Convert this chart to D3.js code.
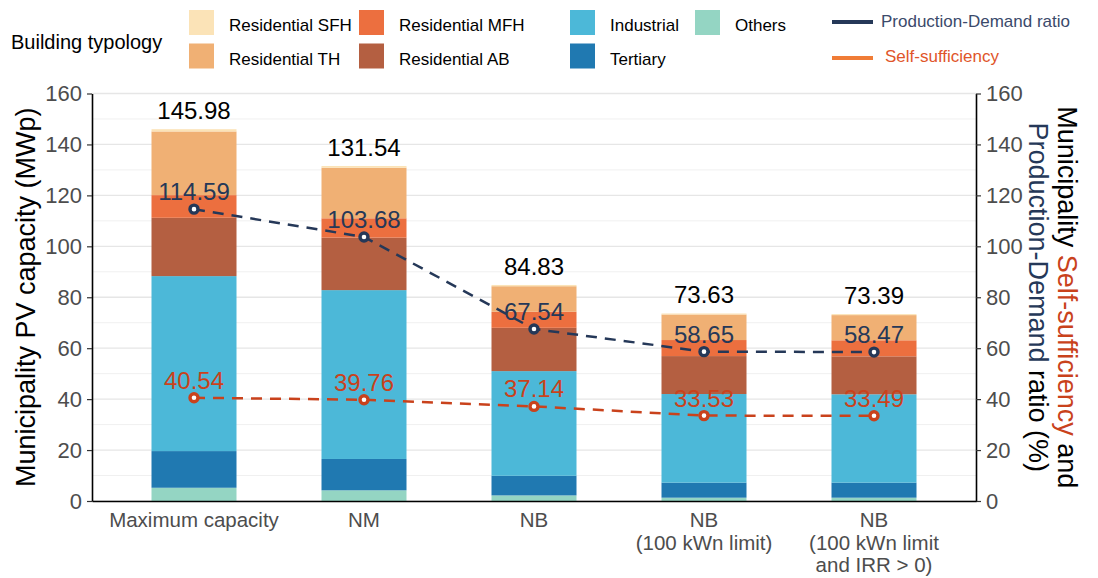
<!DOCTYPE html>
<html>
<head>
<meta charset="utf-8">
<script src="https://cdn.jsdelivr.net/npm/d3@7"></script>
<style>
  html, body { margin: 0; padding: 0; background: #fff; }
  svg { display: block; font-family: "Liberation Sans", Arial, Helvetica, sans-serif; }
</style>
</head>
<body>
<svg id="chart" width="1098" height="578"></svg>
<script>
// Scenarios along the x axis (multi-line labels)
const scenarios = ["Maximum capacity", "NM", "NB", "NB (100 kWn limit)", "NB (100 kWn limit and IRR > 0)"];
const scenarioLines = [
  ["Maximum capacity"],
  ["NM"],
  ["NB"],
  ["NB", "(100 kWn limit)"],
  ["NB", "(100 kWn limit", "and IRR > 0)"]
];

// Building typologies, stacked bottom to top
const typologies = ["Others", "Tertiary", "Industrial", "Residential AB", "Residential MFH", "Residential TH", "Residential SFH"];

// Installed PV capacity per typology (MWp), one value per scenario
const others         = [5.2, 4.2, 2.2, 1.3, 1.3];
const tertiary       = [14.4, 12.3, 7.7, 5.9, 5.9];
const industrial     = [68.7, 66.3, 41.1, 34.8, 34.7];
const residentialAB  = [22.9, 20.6, 17.0, 14.9, 14.9];
const residentialMFH = [8.9, 7.6, 6.3, 6.3, 6.3];
const residentialTH  = [25.0, 19.84, 10.03, 10.03, 9.89];
const residentialSFH = [0.88, 0.7, 0.5, 0.4, 0.4];

// Totals shown above each bar
const totals = [145.98, 131.54, 84.83, 73.63, 73.39];

// Ratios on the secondary axis (%)
const productionDemand = [114.59, 103.68, 67.54, 58.65, 58.47];
const selfSufficiency  = [40.54, 39.76, 37.14, 33.53, 33.49];

// Axis ticks
const yTicks = [0, 20, 40, 60, 80, 100, 120, 140, 160];
const gridTicks = d3.range(0, 161, 10);

const colors = {
  "Residential SFH": "#fbe3b7",
  "Residential TH": "#f0b074",
  "Residential MFH": "#ec6f3f",
  "Residential AB": "#b45f41",
  "Industrial": "#4cb8d8",
  "Tertiary": "#2079b1",
  "Others": "#94d5c3"
};
const pdColor = "#253858";
const ssColor = "#c9421c";

const seriesByType = {
  "Others": others,
  "Tertiary": tertiary,
  "Industrial": industrial,
  "Residential AB": residentialAB,
  "Residential MFH": residentialMFH,
  "Residential TH": residentialTH,
  "Residential SFH": residentialSFH
};

const rows = scenarios.map((s, i) => {
  const r = { scenario: s };
  typologies.forEach(t => r[t] = seriesByType[t][i]);
  return r;
});

const svg = d3.select("#chart");
const plot = { left: 92, right: 976, top: 93.5, bottom: 501 };

const x = d3.scaleBand().domain(scenarios).range([plot.left, plot.right])
  .paddingInner(0.5).paddingOuter(0.35);
const y = d3.scaleLinear().domain([0, 160]).range([plot.bottom, plot.top]);
const y2 = d3.scaleLinear().domain([0, 160]).range([plot.bottom, plot.top]);

// Gridlines
svg.append("g").selectAll("line").data(gridTicks).join("line")
  .attr("x1", plot.left).attr("x2", plot.right)
  .attr("y1", d => y(d)).attr("y2", d => y(d))
  .attr("stroke", d => d % 20 === 0 ? "#e6e6e6" : "#f0f0f0")
  .attr("stroke-width", d => d % 20 === 0 ? 1.3 : 1);

// Stacked bars
const stacked = d3.stack().keys(typologies)(rows);
svg.append("g").selectAll("g").data(stacked).join("g")
  .attr("fill", d => colors[d.key])
  .selectAll("rect").data(d => d).join("rect")
  .attr("x", d => x(d.data.scenario))
  .attr("width", x.bandwidth())
  .attr("y", d => y(d[1]))
  .attr("height", d => y(d[0]) - y(d[1]));

// Totals above bars
svg.append("g").selectAll("text").data(totals).join("text")
  .attr("x", (d, i) => x(scenarios[i]) + x.bandwidth() / 2)
  .attr("y", d => y(d) - 10)
  .attr("text-anchor", "middle")
  .attr("font-size", 24)
  .attr("fill", "#000")
  .text(d => d.toFixed(2));

// Ratio lines with markers and labels
function drawRatio(values, color) {
  const g = svg.append("g");
  const line = d3.line()
    .x((d, i) => x(scenarios[i]) + x.bandwidth() / 2)
    .y(d => y2(d));
  g.append("path").datum(values)
    .attr("d", line)
    .attr("fill", "none")
    .attr("stroke", color)
    .attr("stroke-width", 2.5)
    .attr("stroke-dasharray", "11,8");
  g.selectAll("circle").data(values).join("circle")
    .attr("cx", (d, i) => x(scenarios[i]) + x.bandwidth() / 2)
    .attr("cy", d => y2(d))
    .attr("r", 4)
    .attr("fill", "#fff")
    .attr("stroke", color)
    .attr("stroke-width", 3.4);
  g.selectAll("text").data(values).join("text")
    .attr("x", (d, i) => x(scenarios[i]) + x.bandwidth() / 2)
    .attr("y", d => y2(d) - 9)
    .attr("text-anchor", "middle")
    .attr("font-size", 24)
    .attr("fill", color)
    .text(d => d.toFixed(2));
}
drawRatio(productionDemand, pdColor);
drawRatio(selfSufficiency, ssColor);

// Axes
const axisStyle = g => {
  g.selectAll(".domain").attr("stroke", "#000").attr("stroke-width", 1.6);
  g.selectAll(".tick line").attr("stroke", "#333").attr("stroke-width", 1.2);
  g.selectAll(".tick text").attr("fill", "#4d4d4d").attr("font-size", 22)
    .attr("font-family", "Liberation Sans, Arial, sans-serif");
};

svg.append("g").attr("transform", `translate(${plot.left},0)`)
  .call(d3.axisLeft(y).tickValues(yTicks).tickSize(5).tickSizeOuter(0).tickPadding(5))
  .call(axisStyle);

svg.append("g").attr("transform", `translate(${plot.right},0)`)
  .call(d3.axisRight(y2).tickValues(yTicks).tickSize(5).tickSizeOuter(0).tickPadding(5))
  .call(axisStyle);

const xAxis = svg.append("g").attr("transform", `translate(0,${plot.bottom})`)
  .call(d3.axisBottom(x).tickSize(0).tickSizeOuter(0).tickFormat(""));
xAxis.select(".domain").attr("stroke", "#000").attr("stroke-width", 1.6);
xAxis.selectAll(".tick").each(function (d, i) {
  const t = d3.select(this).append("text")
    .attr("text-anchor", "middle")
    .attr("fill", "#4d4d4d")
    .attr("font-size", 20.5);
  scenarioLines[i].forEach((ln, k) => {
    t.append("tspan").attr("x", 0).attr("y", 26 + k * 22.5).text(ln);
  });
});

// Axis titles
svg.append("text")
  .attr("transform", `translate(35,${(plot.top + plot.bottom) / 2}) rotate(-90)`)
  .attr("text-anchor", "middle")
  .attr("font-size", 27)
  .attr("fill", "#000")
  .text("Municipality PV capacity (MWp)");

const rt1 = svg.append("text")
  .attr("transform", `translate(1058,${(plot.top + plot.bottom) / 2}) rotate(90)`)
  .attr("text-anchor", "middle")
  .attr("font-size", 27)
  .attr("fill", "#000");
rt1.append("tspan").text("Municipality ");
rt1.append("tspan").attr("fill", ssColor).text("Self-sufficiency");
rt1.append("tspan").text(" and");

const rt2 = svg.append("text")
  .attr("transform", `translate(1029,${(plot.top + plot.bottom) / 2}) rotate(90)`)
  .attr("text-anchor", "middle")
  .attr("font-size", 27)
  .attr("fill", "#000");
rt2.append("tspan").attr("fill", pdColor).text("Production-Demand");
rt2.append("tspan").text(" ratio (%)");

// Legend: building typology
const legend = svg.append("g");
legend.append("text")
  .attr("x", 11).attr("y", 49)
  .attr("font-size", 20)
  .attr("fill", "#000")
  .text("Building typology");

const legendItems = [
  { key: "Residential SFH", col: 0, row: 0 },
  { key: "Residential TH", col: 0, row: 1 },
  { key: "Residential MFH", col: 1, row: 0 },
  { key: "Residential AB", col: 1, row: 1 },
  { key: "Industrial", col: 2, row: 0 },
  { key: "Tertiary", col: 2, row: 1 },
  { key: "Others", col: 3, row: 0 }
];
const colX = [189, 359, 570, 695];
const rowY = [10, 43.5];
const li = legend.selectAll("g.item").data(legendItems).join("g").attr("class", "item")
  .attr("transform", d => `translate(${colX[d.col]},${rowY[d.row]})`);
li.append("rect").attr("width", 25).attr("height", 25).attr("fill", d => colors[d.key]);
li.append("text").attr("x", 40).attr("y", 21)
  .attr("font-size", 17).attr("fill", "#000")
  .text(d => d.key);

// Legend: ratio lines
const lineLegend = [
  { label: "Production-Demand ratio", stroke: pdColor, text: "#3b4a6b", y: 22, ty: 27, tx: 881 },
  { label: "Self-sufficiency", stroke: "#f07c36", text: "#e0552a", y: 58, ty: 62, tx: 885 }
];
const ll = svg.append("g").selectAll("g").data(lineLegend).join("g");
ll.append("line")
  .attr("x1", 832).attr("x2", 873)
  .attr("y1", d => d.y).attr("y2", d => d.y)
  .attr("stroke", d => d.stroke).attr("stroke-width", 4);
ll.append("text")
  .attr("x", d => d.tx).attr("y", d => d.ty)
  .attr("font-size", 17)
  .attr("fill", d => d.text)
  .text(d => d.label);
</script>
</body>
</html>
